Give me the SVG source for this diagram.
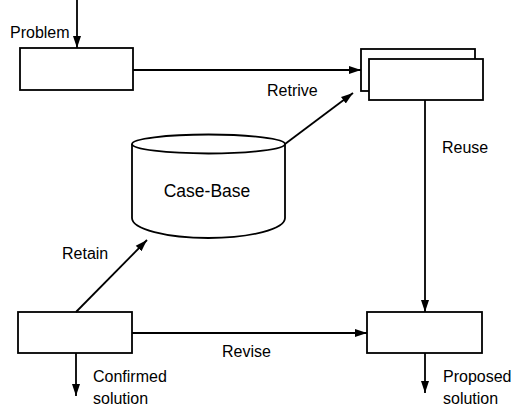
<svg xmlns="http://www.w3.org/2000/svg" width="526" height="408" viewBox="0 0 526 408">
  <style>
    .box { fill: #fff; stroke: #000; stroke-width: 1.8; }
    .line { fill: none; stroke: #000; stroke-width: 1.8; }
    text { font-family: "Liberation Sans", Arial, sans-serif; font-size: 16px; fill: #000; }
    .big { font-size: 17.5px; }
  </style>
  <defs>
    <marker id="arrow" viewBox="0 0 12 10" refX="12" refY="5" markerWidth="12" markerHeight="10" markerUnits="userSpaceOnUse" orient="auto">
      <path d="M0,1 L12,5 L0,9 Z" fill="#000"/>
    </marker>
  </defs>
  <rect width="526" height="408" fill="#fff"/>

  <g id="problem">
    <rect class="box" x="20" y="48" width="113" height="42"/>
    <text x="10" y="38">Problem</text>
  </g>

  <g id="retrieved-cases">
    <rect class="box" x="361" y="49" width="114" height="42"/>
    <rect class="box" x="369" y="59" width="114" height="41"/>
  </g>

  <g id="case-base">
    <path class="box" d="M132,144 L132,218 A76.5,20 0 0 0 285,218 L285,144"/>
    <ellipse class="box" cx="208.5" cy="144" rx="76.5" ry="9.5"/>
    <text class="big" x="207" y="197" text-anchor="middle">Case-Base</text>
  </g>

  <g id="confirmed">
    <rect class="box" x="18" y="312" width="114" height="41"/>
    <text x="93" y="382">Confirmed</text>
    <text x="93" y="404">solution</text>
  </g>

  <g id="proposed">
    <rect class="box" x="367" y="312" width="115" height="41"/>
    <text x="443" y="382">Proposed</text>
    <text x="443" y="404">solution</text>
  </g>

  <g id="connectors">
    <line class="line" x1="77" y1="0" x2="77" y2="48" marker-end="url(#arrow)"/>
    <line class="line" x1="133" y1="70" x2="361" y2="70" marker-end="url(#arrow)"/>
    <line class="line" x1="285" y1="144" x2="353" y2="93" marker-end="url(#arrow)"/>
    <line class="line" x1="425" y1="100" x2="425" y2="312" marker-end="url(#arrow)"/>
    <line class="line" x1="76" y1="312" x2="147" y2="240" marker-end="url(#arrow)"/>
    <line class="line" x1="132" y1="333" x2="367" y2="333" marker-end="url(#arrow)"/>
    <line class="line" x1="76" y1="353" x2="76" y2="396" marker-end="url(#arrow)"/>
    <line class="line" x1="425" y1="353" x2="425" y2="393" marker-end="url(#arrow)"/>
    <text x="267" y="96">Retrive</text>
    <text x="442" y="153">Reuse</text>
    <text x="62" y="259">Retain</text>
    <text x="222" y="357">Revise</text>
  </g>
</svg>
